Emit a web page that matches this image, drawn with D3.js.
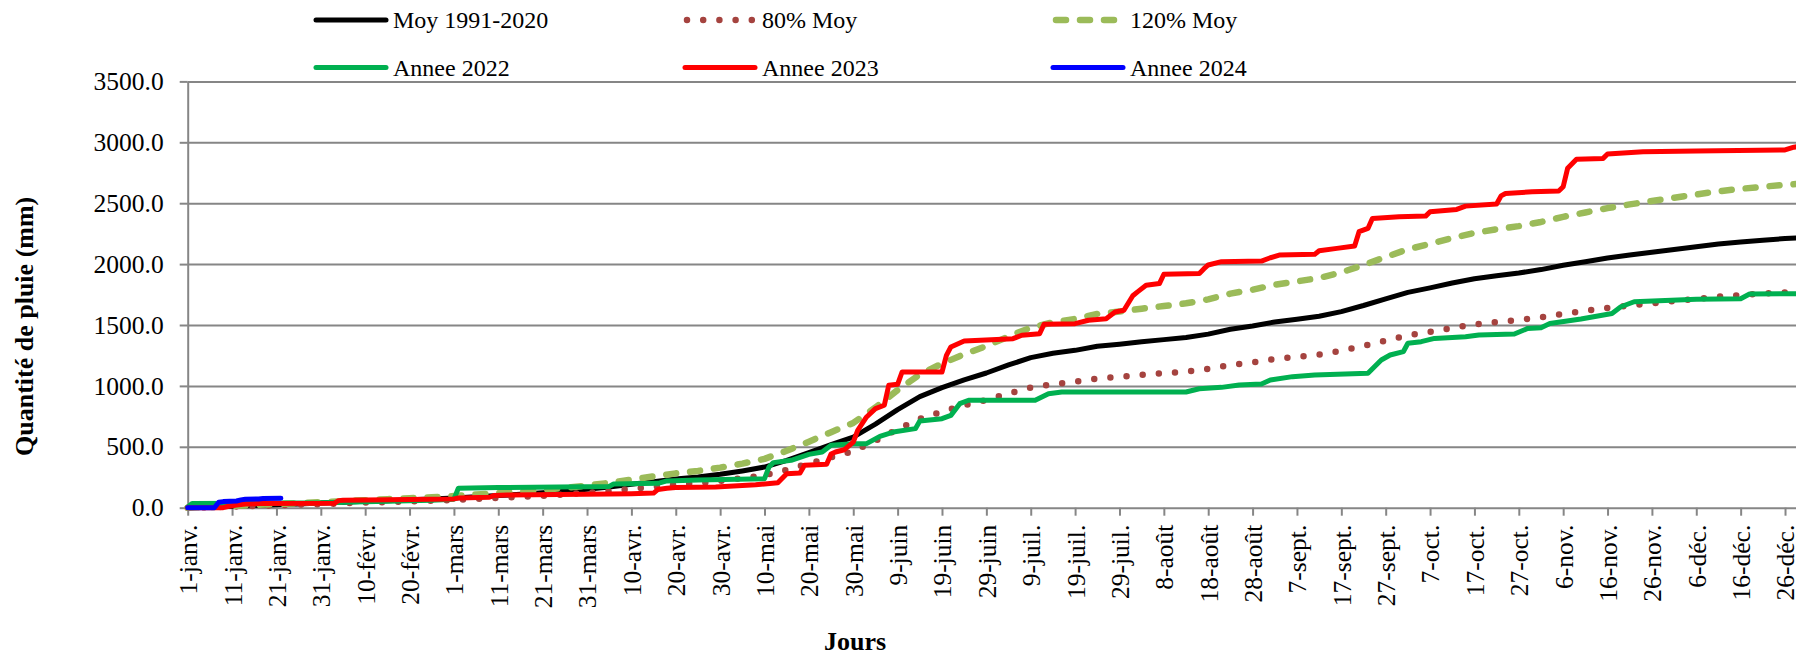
<!DOCTYPE html>
<html><head><meta charset="utf-8">
<script src="https://cdn.jsdelivr.net/npm/d3@7"></script>
<style>
body{margin:0;background:#fff}
svg{display:block;background:#fff}
text{font-family:"Liberation Serif","Times New Roman",serif;fill:#000}
</style>
</head><body>
<svg id="chart" width="1796" height="657"></svg>
<script>
// ---------- DATA ----------
const tickLabels = ["1-janv.","11-janv.","21-janv.","31-janv.","10-févr.","20-févr.","1-mars","11-mars","21-mars","31-mars","10-avr.","20-avr.","30-avr.","10-mai","20-mai","30-mai","9-juin","19-juin","29-juin","9-juil.","19-juil.","29-juil.","8-août","18-août","28-août","7-sept.","17-sept.","27-sept.","7-oct.","17-oct.","27-oct.","6-nov.","16-nov.","26-nov.","6-déc.","16-déc.","26-déc."];
const tickDays = [0,10,20,30,40,50,60,70,80,90,100,110,120,130,140,150,160,170,180,190,200,210,220,230,240,250,260,270,280,290,300,310,320,330,340,350,360];
const yTicks = [0,500,1000,1500,2000,2500,3000,3500];

const seriesNames = ["Moy 1991-2020","80% Moy","120% Moy","Annee 2022","Annee 2023","Annee 2024"];

// [day index, cumulative mm]
const moy = [[0,0],[5,5],[10,12],[15,18],[20,25],[25,31],[30,38],[35,45],[40,52],[45,58],[50,65],[55,72],[60,80],[65,90],[70,100],[75,110],[80,122],[85,136],[90,152],[95,170],[100,192],[105,214],[110,235],[115,252],[120,274],[125,302],[130,334],[135,389],[140,452],[145,517],[150,580],[155,686],[160,805],[165,912],[170,986],[175,1050],[180,1106],[185,1172],[190,1232],[195,1268],[200,1292],[205,1326],[210,1342],[215,1362],[220,1380],[225,1398],[230,1425],[235,1465],[240,1492],[245,1525],[250,1548],[255,1572],[260,1610],[265,1660],[270,1715],[275,1768],[280,1805],[285,1845],[290,1880],[295,1905],[300,1927],[305,1955],[310,1990],[315,2020],[320,2050],[325,2075],[330,2098],[335,2120],[340,2143],[345,2165],[350,2182],[355,2196],[360,2210],[365,2218]];

const moy80 = [[0,0],[5,4],[10,10],[15,14],[20,20],[25,25],[30,30],[35,36],[40,42],[45,46],[50,52],[55,58],[60,64],[65,72],[70,80],[75,88],[80,98],[85,109],[90,122],[95,136],[100,154],[105,171],[110,188],[115,202],[120,219],[125,242],[130,267],[135,311],[140,362],[145,414],[150,464],[155,549],[160,644],[165,730],[170,789],[175,840],[180,885],[185,938],[190,986],[195,1014],[200,1034],[205,1061],[210,1074],[215,1090],[220,1104],[225,1118],[230,1140],[235,1172],[240,1194],[245,1220],[250,1238],[255,1258],[260,1288],[265,1328],[270,1372],[275,1414],[280,1444],[285,1476],[290,1504],[295,1524],[300,1542],[305,1564],[310,1592],[315,1616],[320,1640],[325,1660],[330,1678],[335,1696],[340,1714],[345,1732],[350,1746],[355,1757],[360,1768],[365,1774]];

const moy120 = [[0,0],[5,6],[10,14],[15,22],[20,30],[25,37],[30,46],[35,54],[40,62],[45,70],[50,78],[55,86],[60,96],[65,108],[70,120],[75,132],[80,146],[85,163],[90,182],[95,204],[100,230],[105,257],[110,282],[115,302],[120,329],[125,362],[130,401],[135,467],[140,542],[145,620],[150,696],[155,823],[160,966],[165,1094],[170,1183],[175,1260],[180,1327],[185,1406],[190,1478],[195,1522],[200,1550],[205,1591],[210,1610],[215,1634],[220,1656],[225,1678],[230,1710],[235,1758],[240,1790],[245,1830],[250,1858],[255,1886],[260,1932],[265,1992],[270,2058],[275,2122],[280,2166],[285,2214],[290,2256],[295,2286],[300,2312],[305,2346],[310,2388],[315,2424],[320,2460],[325,2490],[330,2518],[335,2544],[340,2572],[345,2598],[350,2618],[355,2635],[360,2652],[365,2662]];

const y2022 = [[0,5],[1,35],[30,40],[35,45],[45,52],[55,62],[60,70],[61,160],[70,165],[95,175],[96,195],[106,200],[108,220],[115,228],[130,238],[131,334],[132,370],[136,389],[140,438],[143,457],[145,512],[150,526],[153,526],[156,586],[159,621],[164,649],[165,712],[170,731],[172,758],[174,854],[176,882],[191,882],[194,936],[197,950],[225,950],[228,977],[233,988],[237,1008],[242,1016],[244,1049],[249,1076],[254,1090],[266,1103],[269,1213],[271,1254],[274,1282],[275,1350],[278,1363],[281,1390],[288,1404],[291,1418],[299,1426],[302,1472],[305,1478],[307,1513],[314,1549],[321,1595],[323,1650],[326,1691],[340,1711],[350,1716],[352,1755],[365,1758]];

const y2023 = [[0,0],[8,0],[9,10],[11,22],[13,30],[16,34],[33,36],[34,58],[35,62],[60,72],[61,80],[68,86],[69,100],[72,105],[95,112],[100,115],[105,120],[106,150],[108,160],[110,165],[119,170],[128,188],[133,205],[135,279],[138,285],[139,348],[144,356],[145,440],[146,457],[148,476],[150,539],[151,635],[153,745],[155,813],[157,841],[158,1005],[160,1013],[161,1114],[170,1114],[171,1250],[172,1320],[175,1369],[186,1388],[188,1416],[192,1429],[193,1506],[200,1511],[203,1539],[207,1552],[209,1607],[211,1621],[213,1740],[214,1770],[216,1826],[219,1840],[220,1917],[228,1922],[229,1960],[230,1993],[233,2020],[242,2025],[244,2052],[246,2074],[254,2080],[255,2110],[259,2129],[263,2148],[264,2266],[266,2293],[267,2375],[273,2389],[279,2394],[280,2430],[286,2449],[288,2476],[295,2493],[296,2560],[297,2580],[303,2594],[309,2600],[310,2635],[311,2786],[313,2860],[319,2868],[320,2904],[328,2923],[340,2929],[360,2937],[362,2960],[365,2975]];

const y2024 = [[0,0],[6,0],[7,45],[8,50],[11,55],[12,64],[13,70],[16,72],[17,76],[21,78]];

// ---------- LAYOUT ----------
const svg = d3.select("#chart");
const W = 1796, H = 657;
const x0 = 187.7, dayW = 4.437;
const yBottom = 507.7, yTop = 81.4;
const gridColor = "#868686";

const x = d3.scaleLinear().domain([0, 365]).range([x0, x0 + 365 * dayW]);
const y = d3.scaleLinear().domain([0, 3500]).range([yBottom, yTop]);

svg.append("rect").attr("width", W).attr("height", H).attr("fill", "#fff");

// gridlines
const grid = svg.append("g").attr("transform", `translate(${x0},0)`)
  .call(d3.axisLeft(y).tickValues(yTicks.filter(d => d > 0)).tickSize(-(W - x0 + 20)).tickFormat(""));
grid.select(".domain").remove();
grid.selectAll("line").attr("stroke", gridColor).attr("stroke-width", 2);

// y axis
const yAxis = svg.append("g").attr("transform", `translate(${x0},0)`)
  .call(d3.axisLeft(y).tickValues(yTicks).tickSize(8).tickSizeOuter(0).tickPadding(16).tickFormat(d3.format(".1f")));
yAxis.select(".domain").attr("stroke", gridColor).attr("stroke-width", 2);
yAxis.selectAll("line").attr("stroke", gridColor).attr("stroke-width", 2);
yAxis.selectAll("text").attr("font-size", 25.5).attr("font-family", "Liberation Serif").attr("fill", "#000");

// x axis
const xAxis = svg.append("g").attr("transform", `translate(0,${yBottom})`)
  .call(d3.axisBottom(x).tickValues(tickDays).tickSize(8).tickSizeOuter(0).tickFormat((d, i) => tickLabels[i]));
xAxis.select(".domain").attr("stroke", gridColor).attr("stroke-width", 2);
xAxis.selectAll("line").attr("stroke", gridColor).attr("stroke-width", 2);
xAxis.selectAll("text")
  .attr("font-size", 25.5).attr("font-family", "Liberation Serif").attr("fill", "#000")
  .attr("text-anchor", "end")
  .attr("transform", "rotate(-90)")
  .attr("x", -17).attr("y", 0).attr("dy", "0.35em");

// axis titles
svg.append("text").attr("transform", "translate(33,456) rotate(-90)")
  .attr("text-anchor", "start").attr("font-weight", "bold").attr("font-size", 26)
  .text("Quantité de pluie (mm)");
svg.append("text").attr("x", 855).attr("y", 650)
  .attr("text-anchor", "middle").attr("font-weight", "bold").attr("font-size", 26)
  .text("Jours");

// series
const line = d3.line().x(d => x(d[0])).y(d => y(d[1]));
const styles = [
  {data: moy,    color: "#000000", width: 5,   dash: null,    cap: "round"},
  {data: moy80,  color: "#A5433F", width: 6.5, dash: "0,16.2", cap: "round"},
  {data: moy120, color: "#9BBB59", width: 6.5, dash: "10,14", cap: "round"},
  {data: y2022,  color: "#00B050", width: 5,   dash: null,    cap: "round"},
  {data: y2023,  color: "#FF0000", width: 5,   dash: null,    cap: "round"},
  {data: y2024,  color: "#0000FF", width: 5,   dash: null,    cap: "round"}
];
const plot = svg.append("g");
styles.forEach(s => {
  plot.append("path").datum(s.data)
    .attr("d", line)
    .attr("fill", "none")
    .attr("stroke", s.color)
    .attr("stroke-width", s.width)
    .attr("stroke-linejoin", "round")
    .attr("stroke-linecap", s.cap)
    .attr("stroke-dasharray", s.dash);
});

// legend
const legX = [316, 685, 1053];
const legY = [20, 67.5];
const legend = svg.append("g");
styles.forEach((s, i) => {
  const col = i % 3, row = Math.floor(i / 3);
  const lx = legX[col], ly = legY[row];
  let xa = lx, xb = lx + 70;
  if (s.dash === "0,16.2") { xa = lx + 2; xb = lx + 67; }
  if (s.dash === "10,14") { xa = lx + 3; xb = lx + 67; }
  legend.append("line").attr("x1", xa).attr("x2", xb).attr("y1", ly).attr("y2", ly)
    .attr("stroke", s.color).attr("stroke-width", s.width)
    .attr("stroke-linecap", "round").attr("stroke-dasharray", s.dash);
  legend.append("text").attr("x", lx + 77).attr("y", ly + 8.3)
    .attr("font-size", 24).text(seriesNames[i]);
});
</script>
</body></html>
